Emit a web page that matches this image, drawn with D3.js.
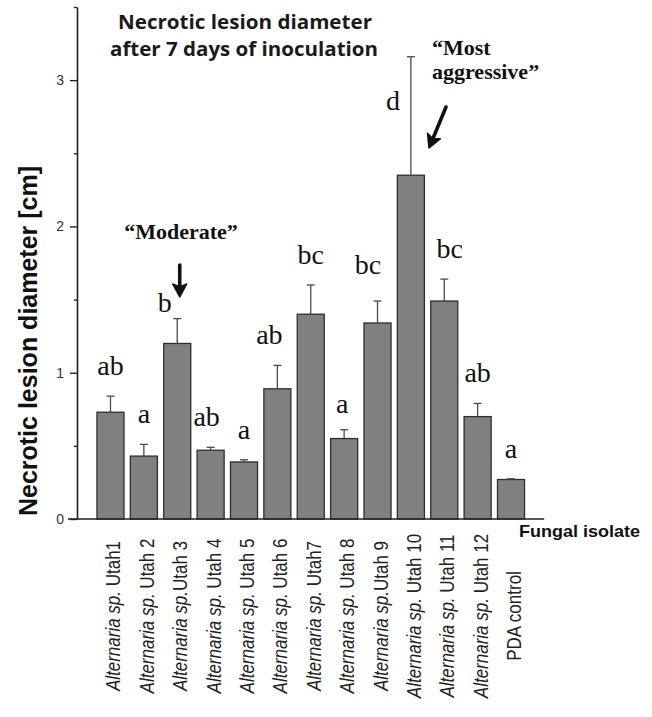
<!DOCTYPE html>
<html>
<head>
<meta charset="utf-8">
<script src="https://cdn.jsdelivr.net/npm/d3@7/dist/d3.min.js"></script>
<style>
  html, body { margin: 0; padding: 0; background: #fff; }
  svg { display: block; }
</style>
</head>
<body>
<svg id="chart" width="652" height="717"></svg>
<script>
// Isolate labels along the x axis
const isolates = [
  "Alternaria sp. Utah1", "Alternaria sp. Utah 2", "Alternaria sp.Utah 3",
  "Alternaria sp. Utah 4", "Alternaria sp. Utah 5", "Alternaria sp. Utah 6",
  "Alternaria sp. Utah7", "Alternaria sp. Utah 8", "Alternaria sp.Utah 9",
  "Alternaria sp. Utah 10", "Alternaria sp. Utah 11", "Alternaria sp. Utah 12",
  "PDA control"
];
// Mean lesion diameter (cm) and standard error
const diameter = [0.73, 0.43, 1.20, 0.47, 0.39, 0.89, 1.40, 0.55, 1.34, 2.35, 1.49, 0.70, 0.27];
const stdError = [0.11, 0.08, 0.17, 0.02, 0.015, 0.16, 0.20, 0.06, 0.15, 0.81, 0.15, 0.09, 0.005];
// Significance groups
const groups = ["ab", "a", "b", "ab", "a", "ab", "bc", "a", "bc", "d", "bc", "ab", "a"];
// Axis ticks
const majorTicks = [0, 1, 2, 3];
const minorTicks = [0.5, 1.5, 2.5, 3.5];

const data = isolates.map((name, i) => ({
  name, value: diameter[i], se: stdError[i], group: groups[i]
}));

const svg = d3.select("#chart");
const sans = "'Liberation Sans', Arial, sans-serif";
const serif = "'Liberation Serif', 'Times New Roman', serif";

const y = d3.scaleLinear().domain([0, 3.5]).range([519, 7]);
const x = d3.scaleBand()
  .domain(isolates)
  .range([93.8, 527.7])
  .paddingInner(0.19)
  .paddingOuter(0.095);

// Title
const title = svg.append("g")
  .attr("font-family", "'Open Sans', sans-serif")
  .attr("font-weight", 700)
  .attr("font-size", 19.5)
  .attr("fill", "#1a1a1a")
  .attr("text-anchor", "middle");
title.append("text").attr("x", 245).attr("y", 29)
  .attr("textLength", 254).attr("lengthAdjust", "spacingAndGlyphs")
  .text("Necrotic lesion diameter");
title.append("text").attr("x", 244).attr("y", 56)
  .attr("textLength", 268).attr("lengthAdjust", "spacingAndGlyphs")
  .text("after 7 days of inoculation");

// Bars
svg.append("g").selectAll("rect").data(data).join("rect")
  .attr("x", d => x(d.name))
  .attr("y", d => y(d.value))
  .attr("width", x.bandwidth())
  .attr("height", d => y(0) - y(d.value))
  .attr("fill", "#808080")
  .attr("stroke", "#2e2e2e")
  .attr("stroke-width", 1.3);

// Error bars (upper only)
const eb = svg.append("g").attr("stroke", "#4a4a4a").attr("stroke-width", 1.3).attr("fill", "none");
eb.selectAll("line.stem").data(data).join("line").attr("class", "stem")
  .attr("x1", d => x(d.name) + x.bandwidth() / 2)
  .attr("x2", d => x(d.name) + x.bandwidth() / 2)
  .attr("y1", d => y(d.value))
  .attr("y2", d => y(d.value + d.se));
eb.selectAll("line.cap").data(data).join("line").attr("class", "cap")
  .attr("x1", d => x(d.name) + x.bandwidth() / 2 - 4)
  .attr("x2", d => x(d.name) + x.bandwidth() / 2 + 4)
  .attr("y1", d => y(d.value + d.se))
  .attr("y2", d => y(d.value + d.se));

// Group letters sit above the error bar; a few are shifted aside
const nudge = {
  "Alternaria sp.Utah 3": [-12.5, 14],
  "Alternaria sp. Utah 4": [-4, 0],
  "Alternaria sp. Utah 6": [-8, 0],
  "Alternaria sp. Utah 8": [-2, 4],
  "Alternaria sp.Utah 9": [-9.5, -6],
  "Alternaria sp. Utah 10": [-18, 74],
  "Alternaria sp. Utah 11": [5.5, 0]
};
svg.append("g").selectAll("text").data(data).join("text")
  .attr("x", d => x(d.name) + x.bandwidth() / 2 + (nudge[d.name] ? nudge[d.name][0] : 0))
  .attr("y", d => y(d.value + d.se) - 21 + (nudge[d.name] ? nudge[d.name][1] : 0))
  .attr("text-anchor", "middle")
  .attr("font-family", serif)
  .attr("font-size", 28)
  .attr("fill", "#111")
  .text(d => d.group);

// Y axis
const yAxis = svg.append("g").attr("transform", "translate(77,0)")
  .call(d3.axisLeft(y).tickValues(majorTicks).tickSize(7).tickSizeOuter(0)
    .tickPadding(6).tickFormat(d3.format("d")));
yAxis.select(".domain").attr("stroke", "#222").attr("stroke-width", 1.6);
yAxis.selectAll(".tick line").attr("stroke", "#222").attr("stroke-width", 1.4);
yAxis.selectAll(".tick text").attr("font-family", sans).attr("font-size", 14).attr("fill", "#333");
const yMinor = svg.append("g").attr("transform", "translate(77,0)")
  .call(d3.axisLeft(y).tickValues(minorTicks).tickSize(3).tickSizeOuter(0).tickFormat(""));
yMinor.select(".domain").remove();
yMinor.selectAll(".tick line").attr("stroke", "#222").attr("stroke-width", 1.4);

// X axis baseline
const [x0, x1] = x.range();
svg.append("line")
  .attr("x1", x0 - 26).attr("x2", x1 + 16.5)
  .attr("y1", y(0)).attr("y2", y(0))
  .attr("stroke", "#222").attr("stroke-width", 1.6);

// Rotated isolate labels, genus name in italics
const lbl = svg.append("g").selectAll("text").data(data).join("text")
  .attr("transform", d => `translate(${x(d.name) + x.bandwidth() / 2 + 10},616) scale(1.2,1) rotate(-90)`)
  .attr("text-anchor", "middle")
  .attr("font-family", sans)
  .attr("font-size", 17)
  .attr("fill", "#222");
lbl.each(function(d) {
  const m = d.name.match(/^(Alternaria sp\.)(.*)$/);
  const t = d3.select(this);
  if (m) {
    t.append("tspan").attr("font-style", "italic").text(m[1]);
    t.append("tspan").text(m[2]);
  } else {
    t.text(d.name);
  }
});

// Axis titles
svg.append("text")
  .attr("transform", "translate(37,341) rotate(-90)")
  .attr("text-anchor", "middle")
  .attr("font-family", sans).attr("font-weight", 700).attr("font-size", 25)
  .attr("fill", "#111")
  .text("Necrotic lesion diameter [cm]");
svg.append("text")
  .attr("x", 519).attr("y", 537)
  .attr("textLength", 121).attr("lengthAdjust", "spacingAndGlyphs")
  .attr("font-family", sans).attr("font-weight", 700).attr("font-size", 16.5)
  .attr("fill", "#111")
  .text("Fungal isolate");

// Callouts
const note = svg.append("g").attr("font-family", serif).attr("font-weight", 700)
  .attr("font-size", 22).attr("fill", "#111");
note.append("text").attr("x", 181).attr("y", 239).attr("text-anchor", "middle")
  .text("\u201CModerate\u201D");
note.append("text").attr("x", 432).attr("y", 55).text("\u201CMost");
note.append("text").attr("x", 432).attr("y", 79).text("aggressive\u201D");

// Arrow helper: shaft plus solid head pointing at (tx, ty)
function arrow(fx, fy, tx, ty) {
  const ang = Math.atan2(ty - fy, tx - fx);
  const len = Math.hypot(tx - fx, ty - fy);
  const g = svg.append("g").attr("transform", `translate(${fx},${fy}) rotate(${ang * 180 / Math.PI})`);
  g.append("line").attr("x1", 0).attr("y1", 0).attr("x2", len - 8).attr("y2", 0)
    .attr("stroke", "#111").attr("stroke-width", 3.6).attr("stroke-linecap", "round");
  g.append("path")
    .attr("d", `M${len},0 L${len - 13},-7 L${len - 10},0 L${len - 13},7 Z`)
    .attr("fill", "#111").attr("stroke", "#111").attr("stroke-width", 1.5)
    .attr("stroke-linejoin", "round");
}
// The arrows point at the bar for Utah 3 and at the error bar for Utah 10
const c3 = x("Alternaria sp.Utah 3") + x.bandwidth() / 2;
arrow(c3 + 2.5, 265, c3 + 2.5, 297);
arrow(446, 107, 429, 148);
</script>
</body>
</html>
